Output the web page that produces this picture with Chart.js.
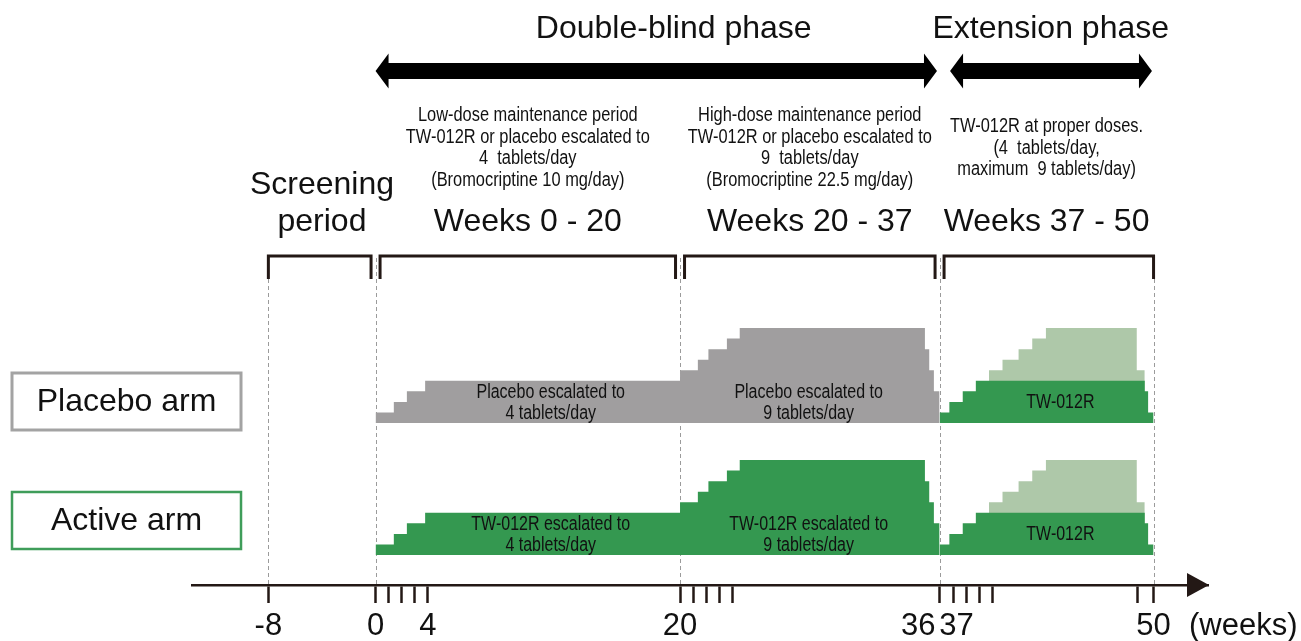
<!DOCTYPE html>
<html>
<head>
<meta charset="utf-8">
<title>Study design</title>
<script src="https://cdn.jsdelivr.net/npm/chart.js@4.4.1/dist/chart.umd.min.js"></script>
<style>
  html, body { margin: 0; padding: 0; background: #fff; }
  canvas { display: block; }
</style>
</head>
<body>
<canvas id="studyChart" width="1301" height="641"></canvas>
<script>
// Study design schematic: dose escalation per arm over weeks

const INK = '#231815';
const GREY_FILL = '#a09e9f';
const GREEN = '#349850';
const LIGHT_GREEN = '#aec8a9';
const FONT = '"Liberation Sans", Arial, Helvetica, sans-serif';
const NARROW = 0.82;

// x axis in weeks; escalation weeks are drawn closer together than the rest
const axisBreaks  = [-13.7, -8, 0, 4, 20, 24, 36, 37, 40, 49, 50, 53.3];
const axisStretch = [13.4, 13.4, 13.05, 15.77, 13.2, 17.23, 14, 13.1, 16.08, 16, 16.5];
const tickWeeks = [-8, 0, 1, 2, 3, 4, 20, 21, 22, 23, 24, 36, 37, 38, 39, 40, 49, 50];
const tickLabelWeeks = [-8, 0, 4, 20, 36, 37, 50];
const tickLabels = ['-8', '0', '4', '20', '36', '37', '50'];
const phaseBounds = [-8, 0, 20, 36, 50];

// double-blind schedule, tablets/day (step starts at each week)
const blindWeeks     = [0, 0, 1.4, 2.4, 3.8, 20, 21.35, 22.15, 23.55, 24.4, 35.15, 35.4, 35.67, 36];
const placeboTablets = [0, 1, 2, 3, 4, 5, 6, 7, 8, 9, 7, 5, 3, 0];
const activeTablets  = [0, 1, 2, 3, 4, 5, 6, 7, 8, 9, 7, 5, 3, 0];

// extension phase: proper dose and allowed maximum (TW-012R in both arms)
const properWeeks   = [36, 36, 36.7, 37.7, 38.7, 49.45, 49.66, 50];
const properTablets = [0, 1, 2, 3, 4, 3, 1, 0];
const maxWeeks   = [39.7, 39.7, 40.6, 41.6, 42.45, 43.3, 48.95, 49.45];
const maxTablets = [0, 5, 6, 7, 8, 9, 5, 0];

const periods = [
  { from: -8, to: 0, title: ['Screening', 'period'], notes: [] },
  { from: 0, to: 20, title: ['Weeks 0 - 20'],
    notes: ['Low-dose maintenance period', 'TW-012R or placebo escalated to', '4  tablets/day', '(Bromocriptine 10 mg/day)'] },
  { from: 20, to: 36, title: ['Weeks 20 - 37'],
    notes: ['High-dose maintenance period', 'TW-012R or placebo escalated to', '9  tablets/day', '(Bromocriptine 22.5 mg/day)'] },
  { from: 36, to: 50, title: ['Weeks 37 - 50'],
    notes: ['TW-012R at proper doses.', '(4  tablets/day,', 'maximum  9 tablets/day)'] }
];

const phases = [
  { text: 'Double-blind phase', from: 0, to: 35.85, labelAt: 19.6 },
  { text: 'Extension phase', from: 36.75, to: 49.9, labelAt: 43.6 }
];

const shapeLabels = [
  { axis: 'yP', week: 11.8, lines: ['Placebo escalated to', '4 tablets/day'] },
  { axis: 'yP', week: 28.4, lines: ['Placebo escalated to', '9 tablets/day'] },
  { axis: 'yP', week: 44.2, lines: ['TW-012R'] },
  { axis: 'yA', week: 11.8, lines: ['TW-012R escalated to', '4 tablets/day'] },
  { axis: 'yA', week: 28.4, lines: ['TW-012R escalated to', '9 tablets/day'] },
  { axis: 'yA', week: 44.2, lines: ['TW-012R'] }
];

// layout (pixels)
const AXIS_Y = 585;
const BASE_P = 423;
const BASE_A = 555;
const TABLET_PX = 10.55;
const armBoxes = [
  { text: 'Placebo arm', x: 12, y: 373, w: 229, h: 57, stroke: '#a3a3a3', lw: 3 },
  { text: 'Active arm', x: 12, y: 492, w: 229, h: 57, stroke: '#3f9d5a', lw: 2.5 }
];

function warpUnits(week) {
  let u = 0;
  for (let i = 0; i < axisBreaks.length - 1; i++) {
    const a = axisBreaks[i], b = axisBreaks[i + 1];
    if (week <= a) break;
    u += (Math.min(week, b) - a) * axisStretch[i];
  }
  return u;
}

class WarpScale extends Chart.LinearScale {
  getPixelForValue(value) {
    if (value === null || !isFinite(value)) return NaN;
    const u0 = warpUnits(this.min), u1 = warpUnits(this.max);
    return this.getPixelForDecimal((warpUnits(value) - u0) / (u1 - u0));
  }
  getValueForPixel(pixel) {
    const u0 = warpUnits(this.min), u1 = warpUnits(this.max);
    const u = u0 + this.getDecimalForPixel(pixel) * (u1 - u0);
    let acc = 0;
    for (let i = 0; i < axisBreaks.length - 1; i++) {
      const seg = (axisBreaks[i + 1] - axisBreaks[i]) * axisStretch[i];
      if (u <= acc + seg) return axisBreaks[i] + (u - acc) / axisStretch[i];
      acc += seg;
    }
    return this.max;
  }
}
WarpScale.id = 'warp';
WarpScale.defaults = Chart.LinearScale.defaults;
Chart.register(WarpScale);

function stepSeries(label, weeks, tablets, color, axis, order) {
  return {
    label: label,
    data: weeks.map((w, i) => ({ x: w, y: tablets[i] })),
    yAxisID: axis,
    stepped: true,
    fill: 'origin',
    backgroundColor: color,
    borderColor: 'rgba(0,0,0,0)',
    borderWidth: 0,
    pointRadius: 0,
    order: order
  };
}

function narrowText(ctx, text, x, y, size) {
  ctx.save();
  ctx.font = size + 'px ' + FONT;
  ctx.translate(x, y);
  ctx.scale(NARROW, 1);
  ctx.textAlign = 'center';
  ctx.textBaseline = 'middle';
  ctx.fillText(text, 0, 0);
  ctx.restore();
}

function doubleArrow(ctx, x1, x2, y) {
  const shaft = 8, head = 17.5, len = 13;
  ctx.beginPath();
  ctx.moveTo(x1, y);
  ctx.lineTo(x1 + len, y - head);
  ctx.lineTo(x1 + len, y - shaft);
  ctx.lineTo(x2 - len, y - shaft);
  ctx.lineTo(x2 - len, y - head);
  ctx.lineTo(x2, y);
  ctx.lineTo(x2 - len, y + head);
  ctx.lineTo(x2 - len, y + shaft);
  ctx.lineTo(x1 + len, y + shaft);
  ctx.lineTo(x1 + len, y + head);
  ctx.closePath();
  ctx.fill();
}

const studyLayout = {
  id: 'studyLayout',
  beforeDatasetsDraw(chart) {
    const { ctx, scales: { x } } = chart;
    ctx.save();
    ctx.strokeStyle = '#9b9b9b';
    ctx.lineWidth = 1;
    ctx.setLineDash([4, 3]);
    phaseBounds.forEach(w => {
      const px = Math.round(x.getPixelForValue(w)) + 0.5;
      ctx.beginPath();
      ctx.moveTo(px, 258);
      ctx.lineTo(px, AXIS_Y);
      ctx.stroke();
    });
    ctx.restore();
  },
  afterDatasetsDraw(chart) {
    const { ctx, scales } = chart;
    ctx.save();
    ctx.fillStyle = '#111';
    shapeLabels.forEach(lab => {
      const cx = scales.x.getPixelForValue(lab.week);
      const base = scales[lab.axis].getPixelForValue(0);
      if (lab.lines.length === 1) {
        narrowText(ctx, lab.lines[0], cx, base - 20, 19.5);
      } else {
        narrowText(ctx, lab.lines[0], cx, base - 30, 19.5);
        narrowText(ctx, lab.lines[1], cx, base - 9, 19.5);
      }
    });
    ctx.restore();
  },
  afterDraw(chart) {
    const { ctx, scales: { x }, chartArea } = chart;
    ctx.save();
    ctx.fillStyle = '#111';
    ctx.textAlign = 'center';
    ctx.textBaseline = 'middle';

    // phase titles and arrows
    phases.forEach(p => {
      ctx.font = '32px ' + FONT;
      ctx.fillText(p.text, x.getPixelForValue(p.labelAt), 29);
      ctx.fillStyle = '#000';
      doubleArrow(ctx, x.getPixelForValue(p.from), x.getPixelForValue(p.to), 71);
      ctx.fillStyle = '#111';
    });

    // period notes, titles and brackets
    periods.forEach((p, i) => {
      const l = x.getPixelForValue(p.from) + (i === 0 ? 0 : 4.5);
      const r = x.getPixelForValue(p.to) - (i === periods.length - 1 ? 0 : 4.5);
      const mid = (x.getPixelForValue(p.from) + x.getPixelForValue(p.to)) / 2;
      const n = p.notes.length;
      p.notes.forEach((t, k) => narrowText(ctx, t, mid, 148 + (k - (n - 1) / 2) * 21.6, 20));
      ctx.font = '32px ' + FONT;
      p.title.forEach((t, k) => ctx.fillText(t, mid, 222 - (p.title.length - 1 - k) * 37));
      ctx.strokeStyle = INK;
      ctx.lineWidth = 3;
      ctx.beginPath();
      ctx.moveTo(l, 279);
      ctx.lineTo(l, 256);
      ctx.lineTo(r, 256);
      ctx.lineTo(r, 279);
      ctx.stroke();
    });

    // arm boxes
    armBoxes.forEach(b => {
      ctx.strokeStyle = b.stroke;
      ctx.lineWidth = b.lw;
      ctx.strokeRect(b.x, b.y, b.w, b.h);
      ctx.font = '32px ' + FONT;
      ctx.fillText(b.text, b.x + b.w / 2, b.y + b.h / 2 + 1);
    });

    // axis arrow head
    const tip = chartArea.right + 1;
    ctx.fillStyle = INK;
    ctx.beginPath();
    ctx.moveTo(tip, AXIS_Y);
    ctx.lineTo(tip - 22, AXIS_Y - 12);
    ctx.lineTo(tip - 22, AXIS_Y + 12);
    ctx.closePath();
    ctx.fill();

    // tick labels
    ctx.fillStyle = '#111';
    ctx.font = '31px ' + FONT;
    tickLabelWeeks.forEach((w, i) => {
      const px = x.getPixelForValue(w);
      if (w === 36) {
        ctx.textAlign = 'right';
        ctx.fillText(tickLabels[i], px - 4, 626);
      } else {
        ctx.textAlign = 'center';
        ctx.fillText(tickLabels[i], px + (w === 37 ? 3 : 0), 626);
      }
    });
    ctx.textAlign = 'left';
    ctx.fillText('(weeks)', tip - 20, 626);
    ctx.restore();
  }
};

new Chart(document.getElementById('studyChart'), {
  type: 'line',
  data: {
    datasets: [
      stepSeries('Placebo arm, double-blind', blindWeeks, placeboTablets, GREY_FILL, 'yP', 1),
      stepSeries('Placebo arm, extension maximum', maxWeeks, maxTablets, LIGHT_GREEN, 'yP', 2),
      stepSeries('Placebo arm, extension proper dose', properWeeks, properTablets, GREEN, 'yP', 1),
      stepSeries('Active arm, double-blind', blindWeeks, activeTablets, GREEN, 'yA', 1),
      stepSeries('Active arm, extension maximum', maxWeeks, maxTablets, LIGHT_GREEN, 'yA', 2),
      stepSeries('Active arm, extension proper dose', properWeeks, properTablets, GREEN, 'yA', 1)
    ]
  },
  options: {
    responsive: false,
    animation: false,
    events: [],
    layout: { autoPadding: false, padding: { left: 192, right: 93, top: 0, bottom: 0 } },
    plugins: {
      legend: { display: false },
      tooltip: { enabled: false }
    },
    scales: {
      x: {
        type: 'warp',
        min: axisBreaks[0],
        max: axisBreaks[axisBreaks.length - 1],
        afterBuildTicks: axis => { axis.ticks = tickWeeks.map(v => ({ value: v })); },
        afterFit: axis => { axis.height = 641 - AXIS_Y; },
        grid: { drawOnChartArea: false, drawTicks: true, tickLength: 18, tickColor: INK, tickWidth: 2.5 },
        border: { display: true, color: INK, width: 2.5 },
        ticks: { display: false, autoSkip: false }
      },
      yP: {
        type: 'linear', display: false,
        min: -(AXIS_Y - BASE_P) / TABLET_PX, max: BASE_P / TABLET_PX
      },
      yA: {
        type: 'linear', display: false,
        min: -(AXIS_Y - BASE_A) / TABLET_PX, max: BASE_A / TABLET_PX
      }
    }
  },
  plugins: [studyLayout]
});
</script>
</body>
</html>
